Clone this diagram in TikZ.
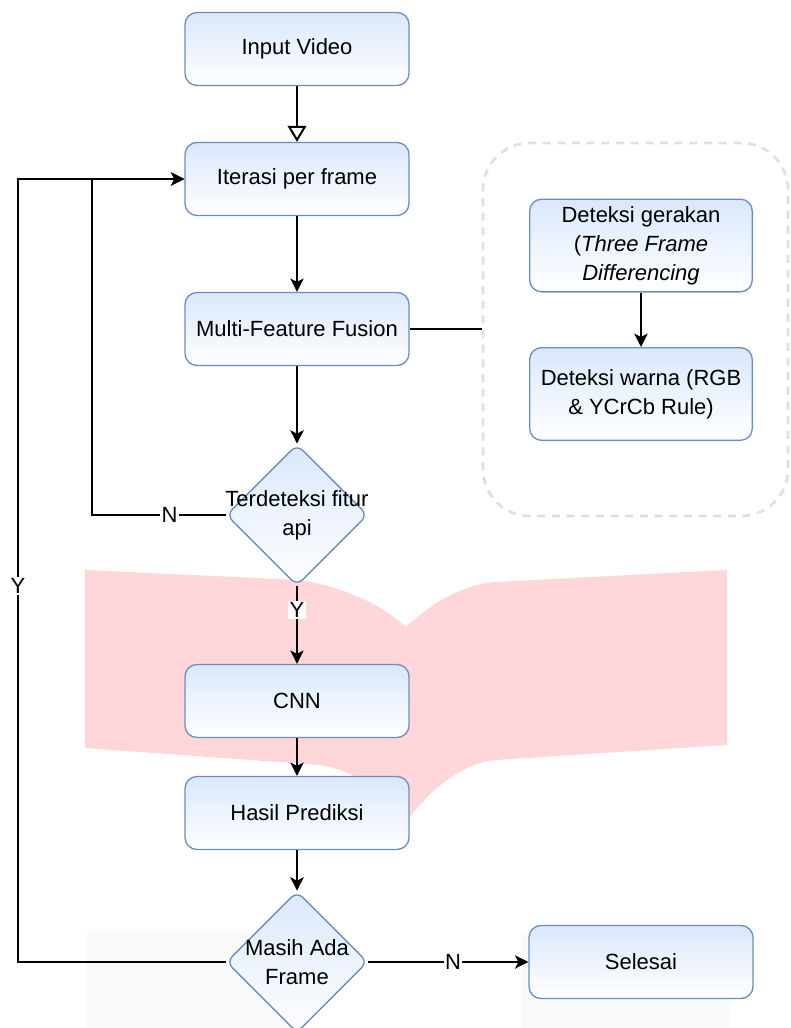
\documentclass[tikz,border=0pt]{standalone}
\usepackage{fontspec}
\setmainfont{Liberation Sans}
\usetikzlibrary{shapes.geometric,arrows.meta}

\definecolor{boxline}{HTML}{6C8EBF}
\definecolor{boxtop}{HTML}{DAE8FC}
\definecolor{grpline}{RGB}{210,232,208}
\definecolor{pinkband}{RGB}{255,214,217}
\definecolor{faintgray}{RGB}{249,249,249}

\begin{document}
\begin{tikzpicture}[x=0.75pt, y=-0.75pt,
        font=\fontsize{16.5}{21.75}\selectfont,
        proc/.style={draw=boxline, line width=1pt, rounded corners=9pt, top color=boxtop, bottom color=white, minimum width=168pt, minimum height=54.75pt, align=center, inner sep=2pt},
        side/.style={proc, minimum width=167pt, minimum height=69.5pt},
        decision/.style={diamond, draw=boxline, line width=1pt, rounded corners=6pt, top color=boxtop, bottom color=white, minimum width=106pt, minimum height=106pt, inner sep=0pt},
        arr/.style={line width=1.5pt, -{Stealth[length=10pt, width=10pt, inset=2.5pt]}},
        lbl/.style={fill=white, inner sep=1pt}]

        \useasboundingbox (0,0) rectangle (790,1028);

        % === Latar ===
        \fill[faintgray] (86,933) rectangle (300,1028);
        \fill[faintgray] (522,933) rectangle (729,1028);
        \fill[pinkband] (85,570) -- (300,580) .. controls (350,588) and (385,608) .. (406,627)
            .. controls (430,605) and (460,585) .. (495,582) -- (727,570) -- (727,745)
            -- (495,760) .. controls (460,764) and (430,790) .. (406,822)
            .. controls (385,795) and (360,772) .. (320,765) -- (85,748) -- cycle;

        % === Alur utama ===
        \node[proc] (vid) at (297,49) {Input Video};
        \node[proc] (iter) at (297,179) {Iterasi per frame};
        \node[proc] (mff) at (297,329) {Multi-Feature Fusion};
        \node[decision, label={[align=center]center:Terdeteksi fitur\\api}] (d1) at (297,515) {};
        \node[proc] (cnn) at (297,701) {CNN};
        \node[proc] (pred) at (297,813) {Hasil Prediksi};
        \node[decision, label={[align=center]center:Masih Ada\\Frame}] (d2) at (297,962) {};
        \node[proc] (done) at (641,962) {Selesai};

        % === Grup fitur ===
        \node[draw=grpline, line width=2pt, dash pattern=on 6pt off 5pt, rounded corners=35pt, minimum width=228.75pt, minimum height=279.75pt] (grp) at (635.5,329.5) {};
        \node[side] (motion) at (641,245.5) {Deteksi gerakan\\(\textit{Three Frame}\\\textit{Differencing}};
        \node[side] (color) at (641,394) {Deteksi warna (RGB\\\& YCrCb Rule)};

        % Panah
        \draw[line width=1.5pt, -{Triangle[open, length=12pt, width=14pt]}] (vid) -- (iter);
        \draw[arr] (iter) -- (mff);
        \draw[arr] (mff) -- (d1);
        \draw[arr] (d1) -- node[lbl, pos=0.31] {Y} (cnn);
        \draw[arr] (cnn) -- (pred);
        \draw[arr] (pred) -- (d2);
        \draw[arr] (d2) -- node[lbl, pos=0.53] {N} (done);
        \draw[line width=1.5pt] (mff.east) -- (mff.east -| grp.west);
        \draw[arr] (motion) -- (color);

        % Kembali ke iterasi
        \coordinate (loopa) at (92,515);
        \coordinate (loopb) at (18,962);
        \draw[arr] (d1.west) -- node[lbl, pos=0.42] {N} (loopa) |- (iter.west);
        \draw[arr] (d2.west) -- (loopb) |- node[lbl, pos=0.24] {Y} (iter.west);

    \end{tikzpicture}
\end{document}
